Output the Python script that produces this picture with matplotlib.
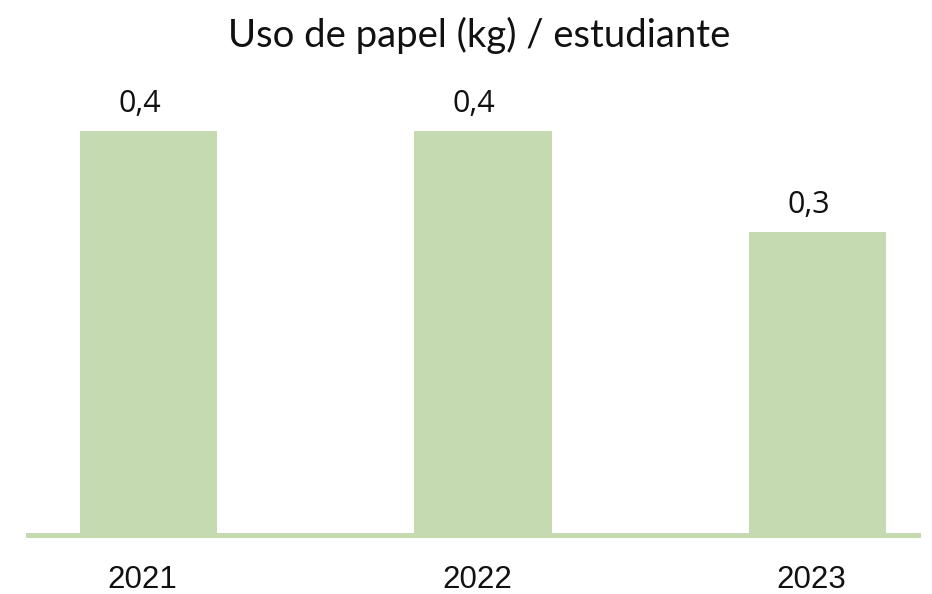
import matplotlib
matplotlib.use("Agg")
import matplotlib.pyplot as plt

years = ["2021", "2022", "2023"]
values = [0.4, 0.4, 0.3]
title = "Uso de papel (kg) / estudiante"

W, H, DPI = 932, 594, 100
BAR = "#C5DAB1"
PX = 72.0 / DPI  # points per pixel

fig = plt.figure(figsize=(W / DPI, H / DPI), dpi=DPI)
fig.patch.set_facecolor("white")

left, right = 28, 918
base, top = 535, 30
ax = fig.add_axes([left / W, (H - base) / H, (right - left) / W, (base - top) / H])
ax.set_xlim(-0.36, 2.30)
ax.set_ylim(0, 0.5)
ax.axis("off")

x = list(range(len(years)))
ax.bar(x, values, width=0.41, color=BAR, zorder=2)
ax.axhline(0, color=BAR, lw=5 * PX, zorder=3, clip_on=False)

for i, (yr, v) in enumerate(zip(years, values)):
    ax.annotate(f"{v:.1f}".replace(".", ","), xy=(i, v),
                xytext=(-9 * PX, 19 * PX), textcoords="offset points",
                ha="center", va="baseline", fontsize=22,
                family="Open Sans", color="#111111")
    ax.annotate(yr, xy=(i, 0),
                xytext=(-6 * PX, -53 * PX), textcoords="offset points",
                ha="center", va="baseline", fontsize=22.5,
                family="Liberation Sans", color="#111111", annotation_clip=False)

fig.text(479 / W, 1 - 47 / H, title, ha="center", va="baseline",
         fontsize=27.5, family="Lato", color="#111111")

fig.savefig("out.png", dpi=DPI)
